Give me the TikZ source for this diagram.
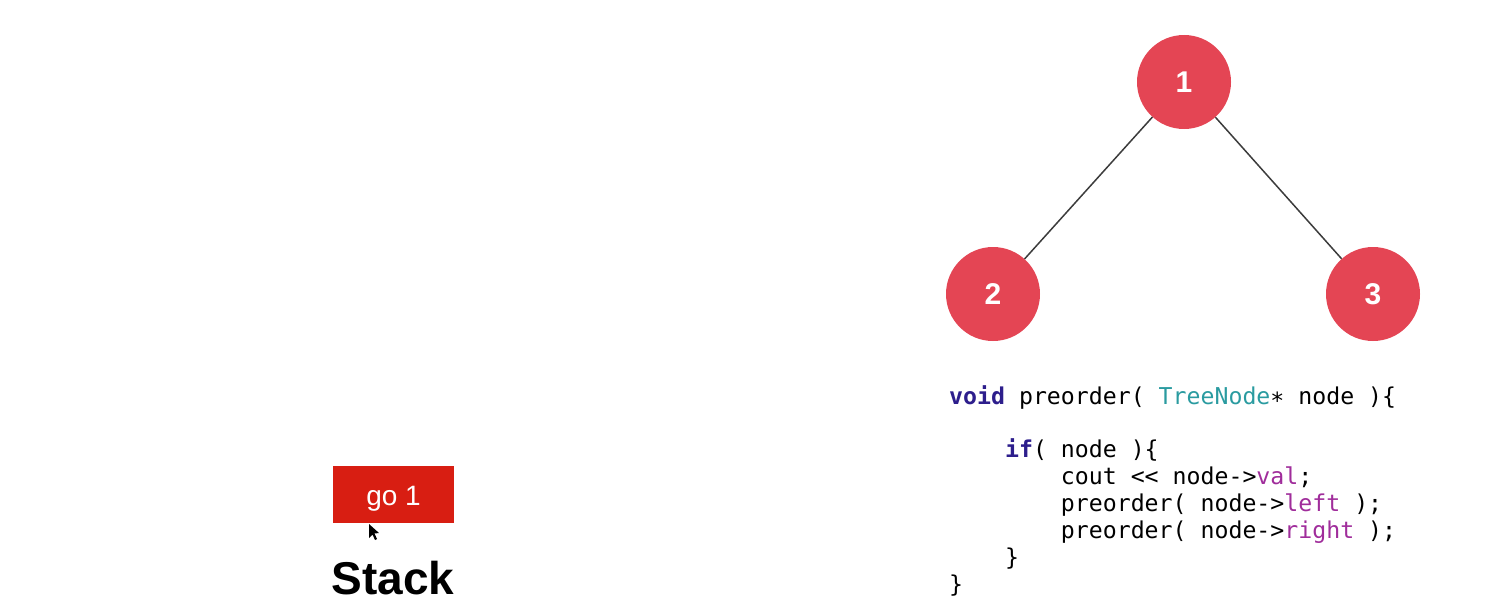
\documentclass[tikz,border=0pt]{standalone}
\usepackage{fontspec}
\setmainfont{Liberation Sans}
\newfontfamily\codefont{DejaVu Sans Mono}
\usetikzlibrary{positioning}
\definecolor{nodered}{RGB}{228,69,84}
\definecolor{btnred}{RGB}{216,30,18}
\definecolor{kwblue}{RGB}{45,30,140}
\definecolor{typeteal}{RGB}{42,155,160}
\definecolor{fieldpurple}{RGB}{160,45,155}
\definecolor{edgegray}{RGB}{60,60,60}
\tikzset{
  treenode/.style={circle, fill=nodered, minimum size=94pt, inner sep=0pt,
    text=white, font=\fontsize{30}{30}\selectfont\bfseries},
  treeedge/.style={draw=edgegray, line width=1.5pt},
  codeline/.style={anchor=base west, inner sep=0pt,
    font=\codefont\fontsize{23.2}{27}\selectfont},
  button/.style={rectangle, fill=btnred, minimum width=121pt, minimum height=57pt,
    inner sep=0pt},
  buttonlabel/.style={inner sep=0pt, text=white, font=\fontsize{28}{28}\selectfont},
}
\newcommand{\kw}[1]{\textcolor{kwblue}{\bfseries #1}}
\newcommand{\ty}[1]{\textcolor{typeteal}{#1}}
\newcommand{\fd}[1]{\textcolor{fieldpurple}{#1}}
\begin{document}
\begin{tikzpicture}[x=1pt,y=-1pt]
  \useasboundingbox (0,0) rectangle (1510,610);

  % binary tree
  \node[treenode] (n1) at (1184,82) {1};
  \node[treenode] (n2) at (993,294) {2};
  \node[treenode] (n3) at (1373,294) {3};
  \draw[treeedge] (n1) -- (n2);
  \draw[treeedge] (n1) -- (n3);

  % preorder traversal source
  \node[codeline] (c1) at (949,404) {\kw{void} preorder( \ty{TreeNode}∗ node )\{};
  \node[codeline] (c2) at (949,457) {\hphantom{xxxx}\kw{if}( node )\{};
  \node[codeline] (c3) at (949,484) {\hphantom{xxxxxxxx}cout << node->\fd{val};};
  \node[codeline] (c4) at (949,511) {\hphantom{xxxxxxxx}preorder( node->\fd{left} );};
  \node[codeline] (c5) at (949,538) {\hphantom{xxxxxxxx}preorder( node->\fd{right} );};
  \node[codeline] (c6) at (949,565) {\hphantom{xxxx}\}};
  \node[codeline] (c7) at (949,592) {\}};

  % control button and stack title
  \node[button] (go) at (393.5,494.5) {};
  \node[buttonlabel] (golabel) at ([yshift=-4pt]go.center) {go 1};
  \node[anchor=base, inner sep=0pt, font=\fontsize{46}{46}\selectfont\bfseries]
    (stack) at (393,594) {Stack};

  % mouse pointer
  \fill[black] (369,524) -- (369,538) -- (372.5,534.5) -- (375,540) -- (377,539)
    -- (374.5,533.5) -- (379,533) -- cycle;
\end{tikzpicture}
\end{document}
